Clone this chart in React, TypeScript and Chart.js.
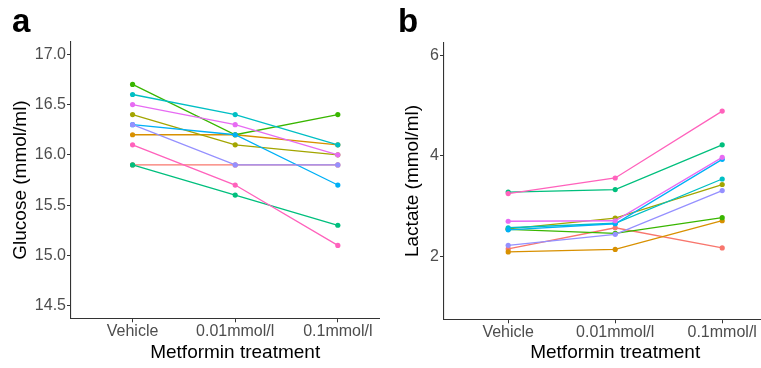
import React, { useEffect, useRef } from "react";
import { Chart, registerables } from "chart.js";

Chart.register(...registerables);

const categories = ["Vehicle", "0.01mmol/l", "0.1mmol/l"];
const categoryPositions = [1, 2, 3];

const subjectColors = [
  "#F8766D", "#D89000", "#A3A500", "#39B600", "#00BF7D",
  "#00BFC4", "#00B0F6", "#9590FF", "#E76BF3", "#FF62BC",
];

// Glucose (mmol/ml) per subject: Vehicle, 0.01mmol/l, 0.1mmol/l
const glucoseS1 = [15.9, 15.9, 15.9];
const glucoseS2 = [16.2, 16.2, 16.1];
const glucoseS3 = [16.4, 16.1, 16.0];
const glucoseS4 = [16.7, 16.2, 16.4];
const glucoseS5 = [15.9, 15.6, 15.3];
const glucoseS6 = [16.6, 16.4, 16.1];
const glucoseS7 = [16.3, 16.2, 15.7];
const glucoseS8 = [16.3, 15.9, 15.9];
const glucoseS9 = [16.5, 16.3, 16.0];
const glucoseS10 = [16.1, 15.7, 15.1];

// Lactate (mmol/ml) per subject
const lactateS1 = [2.15, 2.57, 2.17];
const lactateS2 = [2.09, 2.14, 2.71];
const lactateS3 = [2.55, 2.76, 3.43];
const lactateS4 = [2.54, 2.46, 2.77];
const lactateS5 = [3.28, 3.33, 4.22];
const lactateS6 = [2.57, 2.66, 3.54];
const lactateS7 = [2.53, 2.65, 3.93];
const lactateS8 = [2.22, 2.44, 3.31];
const lactateS9 = [2.70, 2.71, 3.97];
const lactateS10 = [3.25, 3.56, 4.89];

const glucoseSeries = [glucoseS1, glucoseS2, glucoseS3, glucoseS4, glucoseS5, glucoseS6, glucoseS7, glucoseS8, glucoseS9, glucoseS10];
const lactateSeries = [lactateS1, lactateS2, lactateS3, lactateS4, lactateS5, lactateS6, lactateS7, lactateS8, lactateS9, lactateS10];

const glucoseTicks = [14.5, 15.0, 15.5, 16.0, 16.5, 17.0];
const lactateTicks = [2, 4, 6];

const FONT = "'Liberation Sans', Arial, Helvetica, sans-serif";

type PanelCfg = {
  series: number[][];
  yTicks: number[];
  yMin: number;
  yMax: number;
  yTitle: string;
  yDecimals: number;
  yAxisWidth: number;
  xAxisHeight: number;
  topPad: number;
  yTitlePad: number;
  width: number;
};

function Panel({ cfg }: { cfg: PanelCfg }) {
  const ref = useRef<HTMLCanvasElement>(null);
  useEffect(() => {
    if (!ref.current) return;
    const datasets = cfg.series.map((vals, i) => ({
      label: "S" + (i + 1),
      data: vals.map((v, j) => ({ x: categoryPositions[j], y: v })),
      borderColor: subjectColors[i],
      backgroundColor: subjectColors[i],
      borderWidth: 1.3,
      pointRadius: 2.6,
      pointBorderWidth: 0,
      pointHoverRadius: 2.6,
      order: cfg.series.length - i,
    }));
    const chart = new Chart(ref.current, {
      type: "line",
      data: { datasets },
      options: {
        animation: false,
        responsive: false,
        devicePixelRatio: 1,
        layout: { padding: { top: cfg.topPad, left: 0, right: 0, bottom: 0 } },
        plugins: { legend: { display: false }, tooltip: { enabled: false } },
        scales: {
          x: {
            type: "linear",
            min: 0.4,
            max: 3.6,
            afterBuildTicks: (s: any) => {
              s.ticks = categoryPositions.map((v) => ({ value: v }));
            },
            afterFit: (s: any) => {
              s.height = cfg.xAxisHeight;
            },
            ticks: {
              color: "#4D4D4D",
              font: { family: FONT, size: 16 },
              padding: 0,
              maxRotation: 0,
              autoSkip: false,
              callback: (v: any) => categories[categoryPositions.indexOf(Number(v))] ?? "",
            },
            grid: { drawOnChartArea: false, drawTicks: true, tickLength: 4, color: "#333333", lineWidth: 1 },
            border: { color: "#333333", width: 1.1 },
            title: {
              display: true,
              text: "Metformin treatment",
              color: "#000000",
              font: { family: FONT, size: 19 },
              padding: { top: 0, bottom: 3.5 },
            },
          },
          y: {
            type: "linear",
            min: cfg.yMin,
            max: cfg.yMax,
            afterBuildTicks: (s: any) => {
              s.ticks = cfg.yTicks.map((v) => ({ value: v }));
            },
            afterFit: (s: any) => {
              s.width = cfg.yAxisWidth;
            },
            ticks: {
              color: "#4D4D4D",
              font: { family: FONT, size: 16 },
              padding: 1,
              callback: (v: any) => Number(v).toFixed(cfg.yDecimals),
            },
            grid: { drawOnChartArea: false, drawTicks: true, tickLength: 4, color: "#333333", lineWidth: 1 },
            border: { color: "#333333", width: 1.1 },
            title: {
              display: true,
              text: cfg.yTitle,
              color: "#000000",
              font: { family: FONT, size: 19 },
              padding: { top: cfg.yTitlePad, bottom: 0 },
            },
          },
        },
      },
    } as any);
    return () => chart.destroy();
  }, []);
  return <canvas ref={ref} width={cfg.width} height={368} style={{ display: "block" }} />;
}

const panelA: PanelCfg = {
  series: glucoseSeries,
  yTicks: glucoseTicks,
  yMin: 14.375,
  yMax: 17.125,
  yTitle: "Glucose (mmol/ml)",
  yDecimals: 1,
  yAxisWidth: 71,
  xAxisHeight: 49.7,
  topPad: 41.7,
  yTitlePad: 9.5,
  width: 402,
};

const panelB: PanelCfg = {
  series: lactateSeries,
  yTicks: lactateTicks,
  yMin: 0.75,
  yMax: 6.25,
  yTitle: "Lactate (mmol/ml)",
  yDecimals: 0,
  yAxisWidth: 64,
  xAxisHeight: 48.7,
  topPad: 42.7,
  yTitlePad: 21,
  width: 409,
};

export default function App() {
  useEffect(() => {
    document.body.style.margin = "0";
  }, []);
  const labelStyle: React.CSSProperties = {
    position: "absolute",
    fontFamily: FONT,
    fontWeight: "bold",
    fontSize: 33,
    lineHeight: "33px",
    color: "#000",
  };
  return (
    <div style={{ position: "fixed", left: 0, top: 0, width: 761, height: 368, background: "#fff", overflow: "hidden" }}>
      <div style={{ position: "absolute", left: 0, top: 0, width: 380, height: 368, overflow: "hidden" }}>
        <Panel cfg={panelA} />
      </div>
      <div style={{ position: "absolute", left: 380, top: 0, width: 381, height: 368, overflow: "hidden" }}>
        <Panel cfg={panelB} />
      </div>
      <div style={{ ...labelStyle, left: 12, top: 4 }}>a</div>
      <div style={{ ...labelStyle, left: 398, top: 4 }}>b</div>
    </div>
  );
}
